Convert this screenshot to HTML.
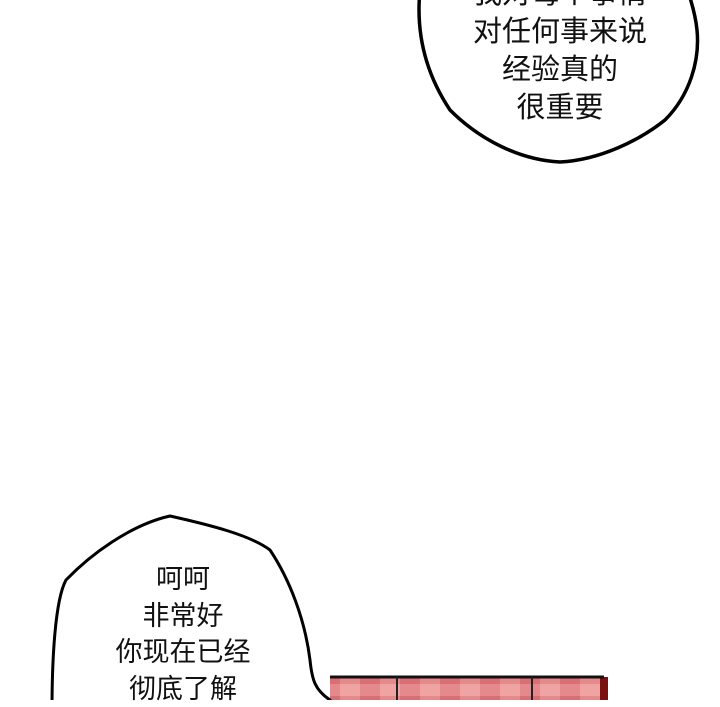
<!DOCTYPE html>
<html><head><meta charset="utf-8"><style>
body{margin:0;width:720px;height:700px;background:#fff;overflow:hidden;position:relative;font-family:"Liberation Sans","Noto Sans CJK SC",sans-serif;}
.t{position:absolute;text-align:center;color:#111;white-space:nowrap;}
</style></head><body>
<svg width="720" height="700" style="position:absolute;left:0;top:0">
<defs>
<pattern id="fl" width="40" height="24" patternUnits="userSpaceOnUse">
<rect width="40" height="24" fill="#e58a8c"/>
<rect x="0" y="0" width="20" height="12" fill="#d96f76"/>
<rect x="20" y="12" width="20" height="12" fill="#f0a3a3"/>
</pattern>
</defs>
<path d="M420,-10 C415,40 430,80 450,110 C480,140 520,160 560,162 C600,160 640,140 665,120 C690,95 700,60 697,30 C695,10 690,0 688,-10" fill="#fff" stroke="#000" stroke-width="3.5"/>
<rect x="330" y="677" width="273" height="30" fill="url(#fl)"/>
<rect x="600" y="677" width="8" height="30" fill="#7a1010"/>
<line x1="330" y1="677" x2="604" y2="677" stroke="#111" stroke-width="3"/>
<line x1="397" y1="677" x2="397" y2="700" stroke="#222" stroke-width="2"/>
<line x1="532" y1="677" x2="532" y2="700" stroke="#222" stroke-width="2"/>
<path d="M52,710 C52,660 55,600 66,580 C90,555 130,525 170,516 C210,525 250,535 270,550 C290,580 305,620 310,660 C312,680 315,690 330,700 L330,710 Z" fill="#fff" stroke="#000" stroke-width="3"/>
</svg>
<div class="t" style="left:410px;width:300px;top:-25px;font-size:29px;line-height:38px">我对每个事情<br>对任何事来说<br>经验真的<br>很重要</div>
<div class="t" style="left:33px;width:300px;top:561px;font-size:27px;line-height:36.5px">呵呵<br>非常好<br>你现在已经<br>彻底了解</div>
</body></html>
